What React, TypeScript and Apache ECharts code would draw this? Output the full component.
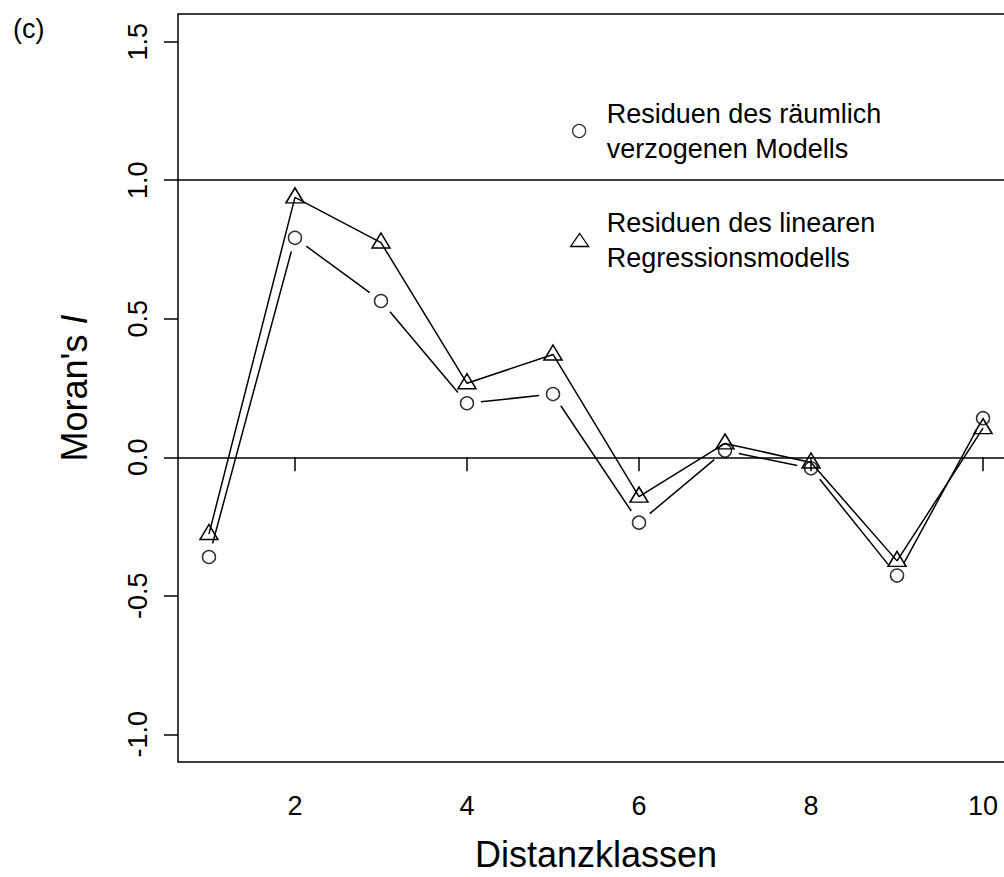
import React, { useEffect, useRef } from "react";
import * as echarts from "echarts";

// Distance classes and Moran's I of the residuals of both models
const DIST = [1, 2, 3, 4, 5, 6, 7, 8, 9, 10];
const SPATIAL_LAG = [-0.36, 0.792, 0.564, 0.195, 0.228, -0.236, 0.024, -0.04, -0.427, 0.141];
const LINEAR = [-0.277, 0.938, 0.775, 0.267, 0.371, -0.142, 0.05, -0.019, -0.374, 0.105];

const X_TICKS = [2, 4, 6, 8, 10];
const Y_TICKS = [-1, -0.5, 0, 0.5, 1, 1.5];
const REF_LINES = [0, 1];

const NAME_LAG = "Residuen des räumlich\nverzogenen Modells";
const NAME_LIN = "Residuen des linearen\nRegressionsmodells";

const FONT = "'Liberation Sans', Arial, Helvetica, sans-serif";
const INK = "#000";
const GAP = 14; // gap left around each circle, as in an R type="b" line

export default function App() {
  const ref = useRef<HTMLDivElement>(null);

  useEffect(() => {
    if (!ref.current) return;
    const chart = echarts.init(ref.current, null, { renderer: "svg" });

    const lagPoints = DIST.map((d, i) => [d, SPATIAL_LAG[i]]);
    const linPoints = DIST.map((d, i) => [d, LINEAR[i]]);

    chart.setOption({
      animation: false,
      backgroundColor: "#fff",
      textStyle: { fontFamily: FONT, color: INK },
      title: {
        text: "(c)",
        left: 8,
        top: 10,
        textStyle: { fontFamily: FONT, fontSize: 27, fontWeight: "normal", color: INK },
      },
      grid: {
        left: 178,
        top: 14,
        width: 836,
        height: 748,
        containLabel: false,
        outerBoundsMode: "none",
        show: true,
        borderColor: INK,
        borderWidth: 1.5,
        backgroundColor: "transparent",
      },
      legend: [
        {
          orient: "vertical",
          left: 572,
          top: 96,
          padding: 0,
          itemWidth: 13,
          itemHeight: 13,
          selectedMode: false,
          data: [
            {
              name: NAME_LAG,
              icon: "circle",
              itemStyle: { color: "transparent", borderColor: INK, borderWidth: 1.3 },
            },
          ],
          textStyle: {
            fontFamily: FONT,
            fontSize: 27,
            lineHeight: 35,
            color: INK,
            padding: [0, 0, 0, 16],
          },
        },
        {
          orient: "vertical",
          left: 570,
          top: 205,
          padding: 0,
          itemWidth: 18,
          itemHeight: 13,
          selectedMode: false,
          data: [
            {
              name: NAME_LIN,
              icon: "triangle",
              itemStyle: { color: "transparent", borderColor: INK, borderWidth: 1.3 },
            },
          ],
          textStyle: {
            fontFamily: FONT,
            fontSize: 27,
            lineHeight: 35,
            color: INK,
            padding: [0, 0, 0, 13],
          },
        },
      ],
      xAxis: {
        type: "value",
        min: 0.64,
        max: 10.36,
        name: "Distanzklassen",
        nameLocation: "middle",
        nameGap: 77,
        nameTextStyle: { fontFamily: FONT, fontSize: 36, lineHeight: 30, color: INK },
        axisLine: { show: false },
        splitLine: { show: false },
        axisTick: {
          show: true,
          inside: false,
          length: 14,
          customValues: X_TICKS,
          lineStyle: { color: INK, width: 1.5 },
        },
        axisLabel: {
          customValues: X_TICKS,
          margin: 30,
          fontFamily: FONT,
          fontSize: 27,
          color: INK,
        },
      },
      yAxis: {
        type: "value",
        min: -1.1,
        max: 1.6,
        name: "Moran's {i|I}",
        nameLocation: "middle",
        nameGap: 86,
        nameRotate: 90,
        nameTextStyle: {
          fontFamily: FONT,
          fontSize: 36,
          color: INK,
          rich: { i: { fontFamily: FONT, fontSize: 36, fontStyle: "italic", color: INK } },
        },
        axisLine: { show: false },
        splitLine: { show: false },
        axisTick: {
          show: true,
          inside: false,
          length: 14,
          customValues: Y_TICKS,
          lineStyle: { color: INK, width: 1.5 },
        },
        axisLabel: {
          customValues: Y_TICKS,
          rotate: 90,
          margin: 27,
          fontFamily: FONT,
          fontSize: 27,
          color: INK,
          formatter: (v: number) => v.toFixed(1),
        },
      },
      series: [
        {
          // linear regression residuals: line through open triangles
          name: NAME_LIN,
          type: "line",
          data: linPoints,
          symbol: "triangle",
          symbolSize: [18, 15],
          symbolOffset: [0, -2],
          showAllSymbol: true,
          lineStyle: { color: INK, width: 1.5 },
          itemStyle: { color: "transparent", borderColor: INK, borderWidth: 1.5 },
          z: 3,
          markLine: {
            silent: true,
            symbol: "none",
            label: { show: false },
            lineStyle: { color: INK, width: 1.5, type: "solid" },
            data: REF_LINES.map((v) => ({ yAxis: v })),
          },
        },
        {
          // spatial lag residuals: segments that stop short of each circle
          name: "lag-segments",
          type: "custom",
          data: lagPoints,
          z: 2,
          renderItem: (params: any, api: any) => {
            const i = params.dataIndex;
            if (i >= DIST.length - 1) return null;
            const a = api.coord([DIST[i], SPATIAL_LAG[i]]);
            const b = api.coord([DIST[i + 1], SPATIAL_LAG[i + 1]]);
            const dx = b[0] - a[0];
            const dy = b[1] - a[1];
            const len = Math.sqrt(dx * dx + dy * dy);
            if (len <= 2 * GAP) return null;
            const ux = dx / len;
            const uy = dy / len;
            return {
              type: "line",
              shape: {
                x1: a[0] + ux * GAP,
                y1: a[1] + uy * GAP,
                x2: b[0] - ux * GAP,
                y2: b[1] - uy * GAP,
              },
              style: { stroke: INK, lineWidth: 1.5, fill: null },
            };
          },
        },
        {
          name: NAME_LAG,
          type: "scatter",
          data: lagPoints,
          symbol: "circle",
          symbolSize: 13,
          itemStyle: { color: "transparent", borderColor: INK, borderWidth: 1.5 },
          z: 4,
        },
      ],
    });

    return () => chart.dispose();
  }, []);

  return (
    <div
      ref={ref}
      style={{ position: "absolute", left: 0, top: 0, width: 1004, height: 877 }}
    />
  );
}
